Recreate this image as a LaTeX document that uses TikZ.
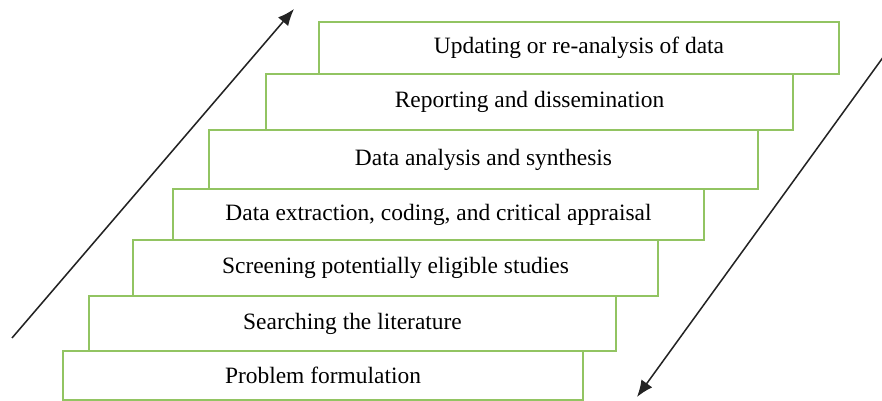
\documentclass[tikz,border=0pt]{standalone}
\usepackage{fontspec}
\setmainfont{Liberation Serif}
\usetikzlibrary{arrows.meta}

\definecolor{stepgreen}{RGB}{146,196,98}
\definecolor{arrowgrey}{RGB}{35,35,35}

\tikzset{
    stepbox/.style={draw=stepgreen, line width=1.5pt, fill=white, inner sep=0pt,
        font=\fontsize{20}{22}\selectfont},
    flow/.style={draw=arrowgrey, line width=1.3pt, -{Latex[length=0.5cm,width=0.4cm]}}
}

\begin{document}
\begin{tikzpicture}[x=0.03cm, y=-0.03cm]
    \useasboundingbox (0,0) rectangle (882,401);

    % the steps, bottom to top
    \node[stepbox, minimum width=15.6cm, minimum height=1.47cm] (problem) at (323,375.5) {Problem formulation};
    \node[stepbox, minimum width=15.81cm, minimum height=1.65cm] (search) at (352.5,323.5) {Searching the literature};
    \node[stepbox, minimum width=15.75cm, minimum height=1.68cm] (screen) at (395.5,268) {Screening potentially eligible studies};
    \node[stepbox, minimum width=15.93cm, minimum height=1.53cm] (extract) at (438.5,214.5) {Data extraction, coding, and critical appraisal};
    \node[stepbox, minimum width=16.47cm, minimum height=1.77cm] (analysis) at (483.5,159.5) {Data analysis and synthesis};
    \node[stepbox, minimum width=15.81cm, minimum height=1.68cm] (report) at (529.5,102) {Reporting and dissemination};
    \node[stepbox, minimum width=15.6cm, minimum height=1.56cm] (update) at (579,48) {Updating or re-analysis of data};

    % arrows on both sides
    \coordinate (upfrom) at (12,338);
    \coordinate (upto) at (294,9);
    \coordinate (downfrom) at (884,56);
    \coordinate (downto) at (637,397);
    \draw[flow] (upfrom) -- (upto);
    \draw[flow] (downfrom) -- (downto);
\end{tikzpicture}
\end{document}
